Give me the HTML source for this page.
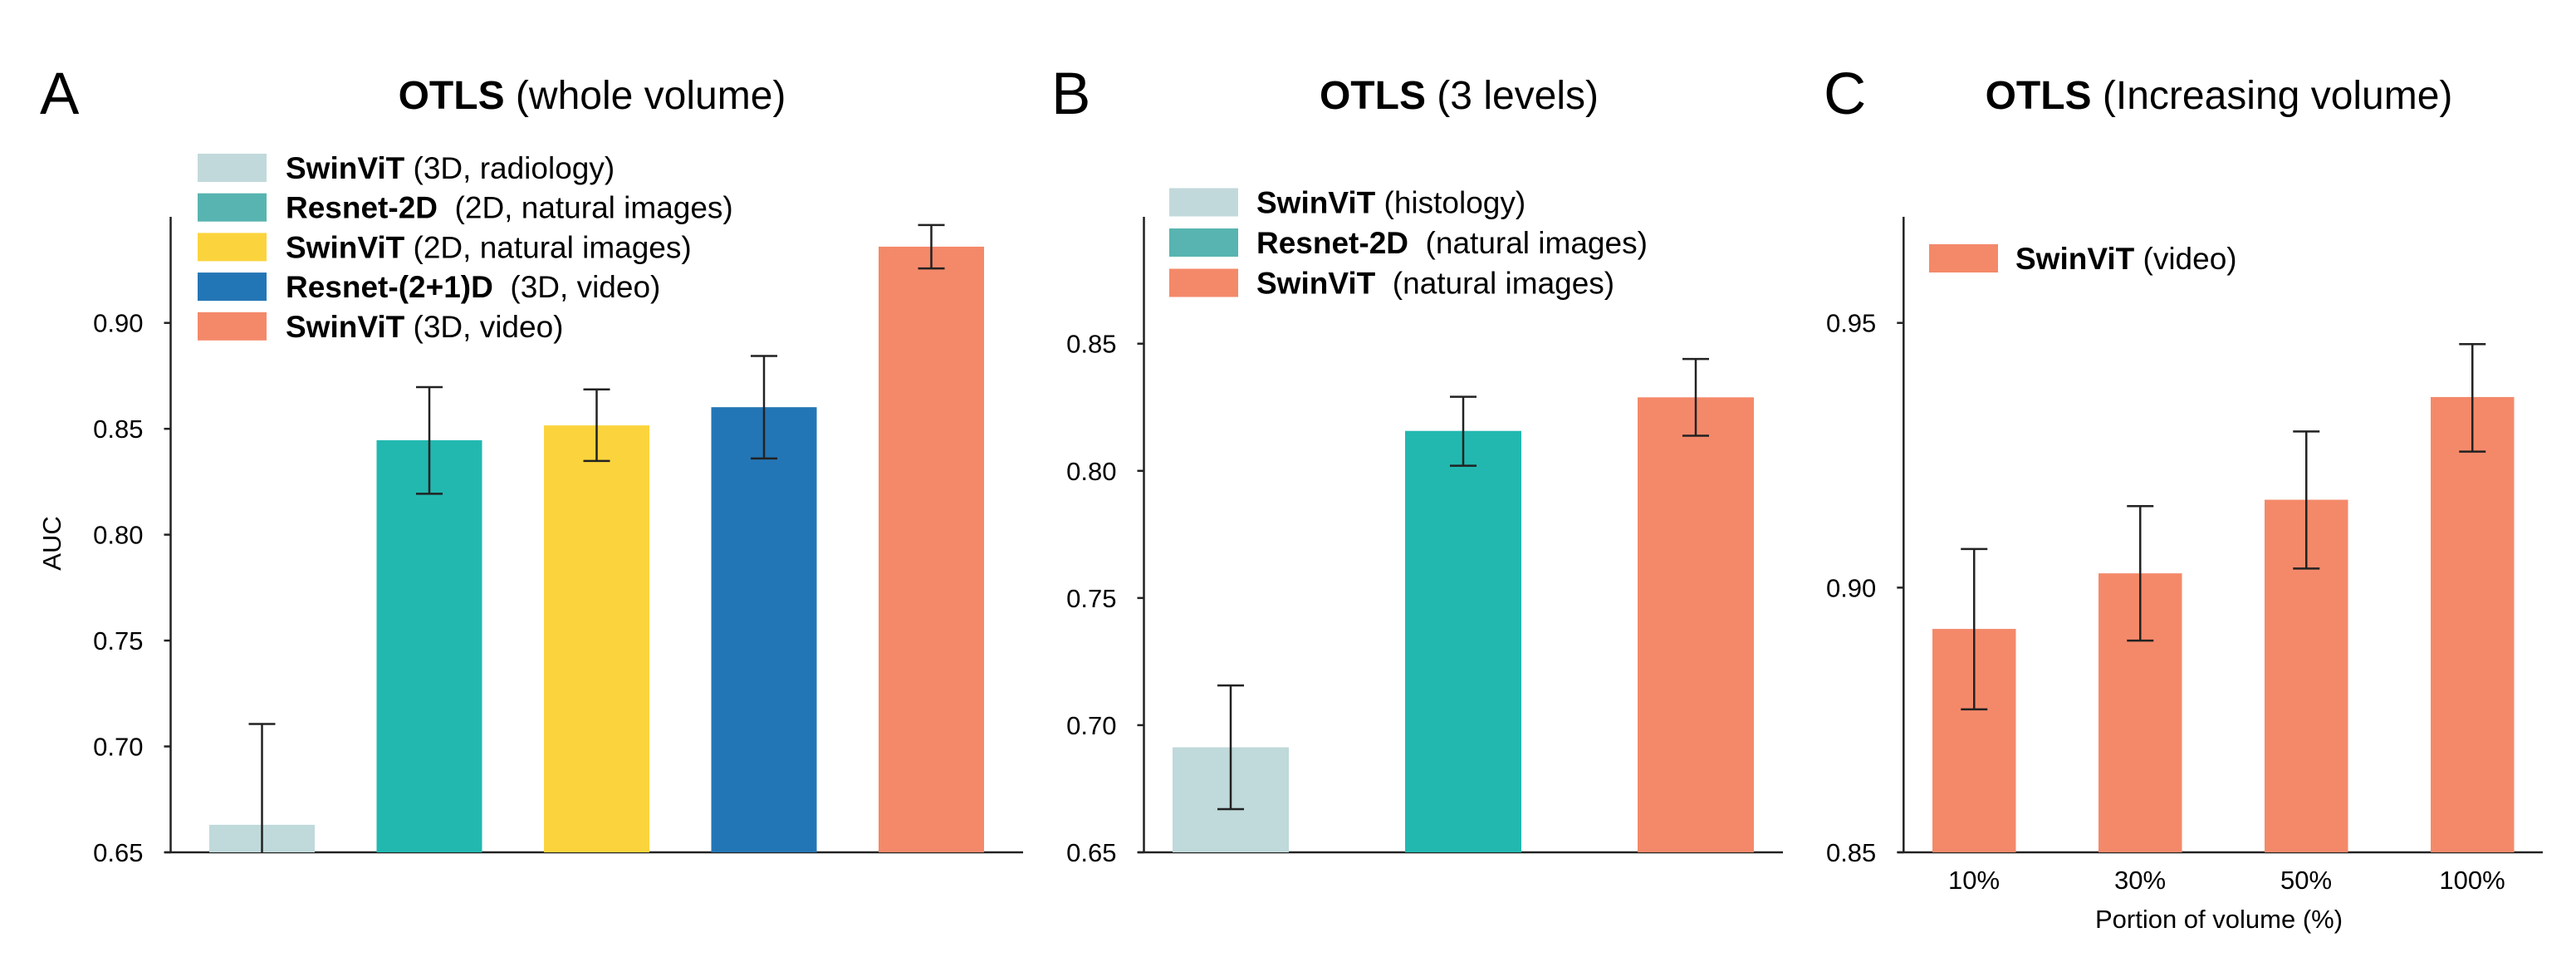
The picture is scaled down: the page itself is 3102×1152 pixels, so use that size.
<!DOCTYPE html>
<html><head><meta charset="utf-8"><style>
html,body{margin:0;padding:0;background:#fff}
svg{display:block;font-family:"Liberation Sans",Arial,sans-serif}
</style></head><body>
<svg id="fig" width="3102" height="1152" viewBox="0 0 3102 1152" xmlns="http://www.w3.org/2000/svg">
<g id="gA"></g>
<g id="gB"></g>
<g id="gC"></g>
</svg>
<script>
// Panel A data
const aValues = [0.663, 0.8446, 0.8516, 0.8602, 0.936];
const aErrLow = [0.615, 0.8193, 0.8348, 0.836, 0.9257];
const aErrHigh = [0.7106, 0.8697, 0.8686, 0.8844, 0.9462];
const aTicks = [0.65, 0.70, 0.75, 0.80, 0.85, 0.90];
const aBold = ["SwinViT", "Resnet-2D", "SwinViT", "Resnet-(2+1)D", "SwinViT"];
const aRest = [" (3D, radiology)", "  (2D, natural images)", " (2D, natural images)", "  (3D, video)", " (3D, video)"];
// Panel B data
const bValues = [0.6913, 0.8157, 0.8289];
const bErrLow = [0.667, 0.802, 0.8138];
const bErrHigh = [0.7156, 0.8291, 0.844];
const bTicks = [0.65, 0.70, 0.75, 0.80, 0.85];
const bBold = ["SwinViT", "Resnet-2D", "SwinViT"];
const bRest = [" (histology)", "  (natural images)", "  (natural images)"];
// Panel C data
const cCategories = ["10%", "30%", "50%", "100%"];
const cValues = [0.8922, 0.9027, 0.9166, 0.936];
const cErrLow = [0.877, 0.89, 0.9036, 0.9257];
const cErrHigh = [0.9073, 0.9154, 0.9295, 0.946];
const cTicks = [0.85, 0.90, 0.95];

const NS = "http://www.w3.org/2000/svg";
function mk(parent, tag, attrs, text) {
  const e = document.createElementNS(NS, tag);
  for (const k in attrs) e.setAttribute(k, attrs[k]);
  if (text !== undefined) e.textContent = text;
  parent.appendChild(e);
  return e;
}

function panel(g, cfg) {
  const y = v => cfg.yBase - (v - cfg.yMin) / (cfg.yMaxT - cfg.yMin) * (cfg.yBase - cfg.yTopT);
  const letter = mk(g, "text", {x: cfg.letterX, y: 137, "font-size": 71}, cfg.letter);
  
  
  const t = mk(g, "text", {x: cfg.titleX, y: 131, "font-size": 48, "text-anchor": "middle"});
  
  
  mk(t, "tspan", {"font-weight": "bold"}, "OTLS");
  mk(t, "tspan", {}, " " + cfg.titleRest);
  const yAxis = mk(g, "line", {x1: cfg.axX, x2: cfg.axX, y1: 261, y2: cfg.yBase, stroke: "#222", "stroke-width": 2.5});
  
  
  const xAxis = mk(g, "line", {x1: cfg.axX - 7, x2: cfg.axEnd, y1: cfg.yBase, y2: cfg.yBase, stroke: "#222", "stroke-width": 2.5});
  
  
  cfg.ticks.forEach(v => {
    const tk = mk(g, "line", {x1: cfg.axX - 8, x2: cfg.axX, y1: y(v), y2: y(v), stroke: "#222", "stroke-width": 2.5});
    
    
    const tl = mk(g, "text", {x: cfg.axX - 33, y: y(v) + 11, "font-size": 31, "text-anchor": "end"}, v.toFixed(2));
    
    
  });
  cfg.values.forEach((v, i) => {
    const x0 = cfg.bar0 + i * cfg.step;
    const b = mk(g, "rect", {x: x0, y: y(v), width: cfg.bw, height: cfg.yBase - y(v), fill: cfg.colors[i]});
    
    
    const cx = x0 + cfg.bw / 2;
    const lo = Math.max(cfg.lo[i], cfg.yMin);
    const eb = mk(g, "path", {d: `M${cx} ${y(cfg.hi[i])}V${y(lo)}M${cx-16} ${y(cfg.hi[i])}h32` + (cfg.lo[i] >= cfg.yMin ? `M${cx-16} ${y(lo)}h32` : ""), stroke: "#222", "stroke-width": 2.5, fill: "none"});
    
    
  });
  cfg.legBold.forEach((bt, i) => {
    const ly = cfg.legY + i * cfg.legStep;
    const sw = mk(g, "rect", {x: cfg.legX, y: ly - 17, width: cfg.swW, height: 34, fill: cfg.legColors[i]});
    
    
    const lt = mk(g, "text", {x: cfg.legTX, y: ly + 13, "font-size": 37, "xml:space": "preserve"});
    
    
    lt.setAttribute("style", "white-space:pre");
    mk(lt, "tspan", {"font-weight": "bold"}, bt);
    mk(lt, "tspan", {}, cfg.legRest[i]);
  });
}

panel(document.getElementById("gA"), {
  letter: "A", letterX: 48, titleX: 713, titleRest: "(whole volume)",
  axX: 205.5, axEnd: 1232, yBase: 1026, yMin: 0.65, yMaxT: 0.90, yTopT: 388.7,
  ticks: aTicks, values: aValues, lo: aErrLow, hi: aErrHigh,
  bar0: 252, step: 201.5, bw: 127,
  colors: ["#c0d9da", "#22b8b0", "#fbd43d", "#2376b5", "#f4896a"],
  legBold: aBold, legRest: aRest, legX: 238, swW: 83, legTX: 344, legY: 202, legStep: 47.7,
  legColors: ["#c2d9db", "#58b4b0", "#fbd43d", "#2376b5", "#f4896a"]
});
panel(document.getElementById("gB"), {
  letter: "B", letterX: 1266, titleX: 1757, titleRest: "(3 levels)",
  axX: 1377.5, axEnd: 2147, yBase: 1026, yMin: 0.65, yMaxT: 0.85, yTopT: 413.7,
  ticks: bTicks, values: bValues, lo: bErrLow, hi: bErrHigh,
  bar0: 1412, step: 280, bw: 140,
  colors: ["#c0d9da", "#22b8b0", "#f4896a"],
  legBold: bBold, legRest: bRest, legX: 1408, swW: 83, legTX: 1513, legY: 243.5, legStep: 48.5,
  legColors: ["#c2d9db", "#58b4b0", "#f4896a"]
});
panel(document.getElementById("gC"), {
  letter: "C", letterX: 2196, titleX: 2672, titleRest: "(Increasing volume)",
  axX: 2292.3, axEnd: 3062, yBase: 1026, yMin: 0.85, yMaxT: 0.95, yTopT: 388.7,
  ticks: cTicks, values: cValues, lo: cErrLow, hi: cErrHigh,
  bar0: 2327, step: 200, bw: 100.5,
  colors: ["#f4896a", "#f4896a", "#f4896a", "#f4896a"],
  legBold: ["SwinViT"], legRest: [" (video)"], legX: 2323, swW: 83, legTX: 2427, legY: 311, legStep: 48,
  legColors: ["#f4896a"]
});
const gC = document.getElementById("gC");
cCategories.forEach((c, i) => {
  const t = mk(gC, "text", {x: 2327 + i * 200 + 50, y: 1070, "font-size": 31, "text-anchor": "middle"}, c);
  
  
});
const xl = mk(gC, "text", {x: 2672, y: 1117, "font-size": 31, "text-anchor": "middle"}, "Portion of volume (%)");


const yl = mk(document.getElementById("gA"), "text", {x: 0, y: 0, "font-size": 31, "text-anchor": "middle", transform: "translate(73,654) rotate(-90)"}, "AUC");


</script>
</body></html>
